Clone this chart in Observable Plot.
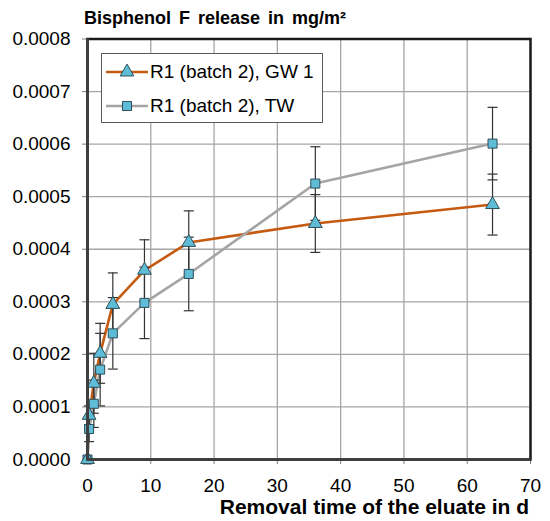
<!DOCTYPE html>
<html>
<head>
<meta charset="utf-8">
<script src="https://cdn.jsdelivr.net/npm/d3@7"></script>
<script src="https://cdn.jsdelivr.net/npm/@observablehq/plot@0.6"></script>
<style>
  html, body { margin: 0; padding: 0; background: #fff; }
  #wrap { position: relative; width: 550px; height: 521px; font-family: "Liberation Sans", Arial, sans-serif; }
  #title { position: absolute; left: 84px; top: 9px; font-weight: bold; font-size: 18px; line-height: 18px; word-spacing: 3px; white-space: nowrap; }
  #xlabel { position: absolute; right: 21px; top: 496px; font-weight: bold; font-size: 21px; line-height: 21px; white-space: nowrap; }
  #legend { position: absolute; left: 101px; top: 53px; width: 220px; height: 68px; border: 1px solid #595959; background: #fff; }
  .row { position: absolute; left: 4px; height: 30px; display: flex; align-items: center; font-size: 19px; white-space: nowrap; }
  .row svg { margin-right: 2px; }
</style>
</head>
<body>
<div id="wrap">
  <div id="chart"></div>
  <div id="title">Bisphenol F release in mg/m²</div>
  <div id="xlabel">Removal time of the eluate in d</div>
  <div id="legend"></div>
</div>
<script>
// ---- data ----
const xDays = [0, 0.25, 1, 2, 4, 9, 16, 36, 64];
const gwValues = [0, 0.000084, 0.000145, 0.000202, 0.000295, 0.00036, 0.000413, 0.000449, 0.000485];
const gwErrors = [0, 0.000018, 0.000057, 0.000057, 0.00006, 0.000058, 0.00006, 0.000055, 0.000058];
const twValues = [0, 0.000058, 0.000106, 0.000171, 0.00024, 0.000298, 0.000353, 0.000525, 0.000601];
const twErrors = [0, 0.000024, 0.000045, 0.000069, 0.000068, 0.000068, 0.00007, 0.00007, 0.000069];
const seriesNames = ["R1 (batch 2), GW 1", "R1 (batch 2), TW"];
const xTicks = [0, 10, 20, 30, 40, 50, 60, 70];
const yTicks = [0, 0.0001, 0.0002, 0.0003, 0.0004, 0.0005, 0.0006, 0.0007, 0.0008];

// ---- styles ----
const lineColors = ["#c55a11", "#a5a5a5"];
const markerR = [5.1, 5.1];
const markerFill = "#5fbcd6";
const markerStroke = "#2f4f5a";

const rows = [];
[[gwValues, gwErrors], [twValues, twErrors]].forEach(([vals, errs], s) => {
  xDays.forEach((x, i) => rows.push({series: seriesNames[s], s, x, y: vals[i], lo: vals[i] - errs[i], hi: vals[i] + errs[i], err: errs[i]}));
});
const withErr = rows.filter(d => d.err > 0);
const caps = withErr.flatMap(d => [{x: d.x, y: d.lo}, {x: d.x, y: d.hi}]);

const capSymbol = {
  draw(context, size) {
    const w = Math.sqrt(size / Math.PI);
    context.moveTo(-w, 0);
    context.lineTo(w, 0);
  }
};

const chart = Plot.plot({
  width: 550,
  height: 521,
  marginLeft: 87,
  marginRight: 20,
  marginTop: 38.5,
  marginBottom: 62,
  style: {fontFamily: "'Liberation Sans', Arial, sans-serif", fontSize: "19px", color: "#000", background: "transparent"},
  x: {domain: [0, 70], ticks: xTicks},
  y: {domain: [0, 0.0008], ticks: yTicks, tickFormat: d3.format(".4f")},
  marks: [
    Plot.gridX(xTicks, {stroke: "#a6a6a6", strokeOpacity: 1, strokeWidth: 1.3}),
    Plot.gridY(yTicks, {stroke: "#a6a6a6", strokeOpacity: 1, strokeWidth: 1.3}),
    Plot.axisX(xTicks, {tickSize: 5, tickPadding: 14, label: null, stroke: "#7f7f7f", fontSize: 19}),
    Plot.axisY(yTicks, {tickSize: 5, tickPadding: 12, label: null, stroke: "#7f7f7f", fontSize: 19, tickFormat: d3.format(".4f")}),
    Plot.line(rows, {x: "x", y: "y", z: "series", stroke: d => lineColors[d.s], strokeWidth: 2.6, strokeLinejoin: "round", curve: "linear"}),
    Plot.ruleX(withErr, {x: "x", y1: "lo", y2: "hi", stroke: "#333", strokeWidth: 1.2}),
    Plot.dot(caps, {x: "x", y: "y", symbol: capSymbol, r: 5, stroke: "#333", strokeWidth: 1.2, fill: "none"}),
    Plot.dot(rows.filter(d => d.s === 1), {x: "x", y: "y", symbol: "square", r: markerR[1], fill: markerFill, stroke: markerStroke, strokeWidth: 1}),
    Plot.dot(rows.filter(d => d.s === 0), {x: "x", y: "y", symbol: "triangle", r: markerR[0], fill: markerFill, stroke: markerStroke, strokeWidth: 1}),
    Plot.frame({stroke: "#1a1a1a", strokeWidth: 2.5}),
    Plot.ruleX([0], {stroke: "#3f3f3f", strokeWidth: 3}),
    Plot.ruleY([0], {stroke: "#3f3f3f", strokeWidth: 3})
  ]
});
document.getElementById("chart").appendChild(chart);

// ---- legend ----
const legend = document.getElementById("legend");
seriesNames.forEach((name, s) => {
  const row = document.createElement("div");
  row.className = "row";
  row.style.top = (s === 0 ? 3 : 37) + "px";
  const sym = d3.symbol(s === 0 ? d3.symbolTriangle : d3.symbolSquare, markerR[s] * markerR[s] * Math.PI)();
  row.innerHTML = `<svg width="42" height="20"><line x1="0" x2="42" y1="10" y2="10" stroke="${lineColors[s]}" stroke-width="2.6"/><path d="${sym}" transform="translate(21,10)" fill="${markerFill}" stroke="${markerStroke}" stroke-width="1"/></svg><span>${name}</span>`;
  legend.appendChild(row);
});
</script>
</body>
</html>
